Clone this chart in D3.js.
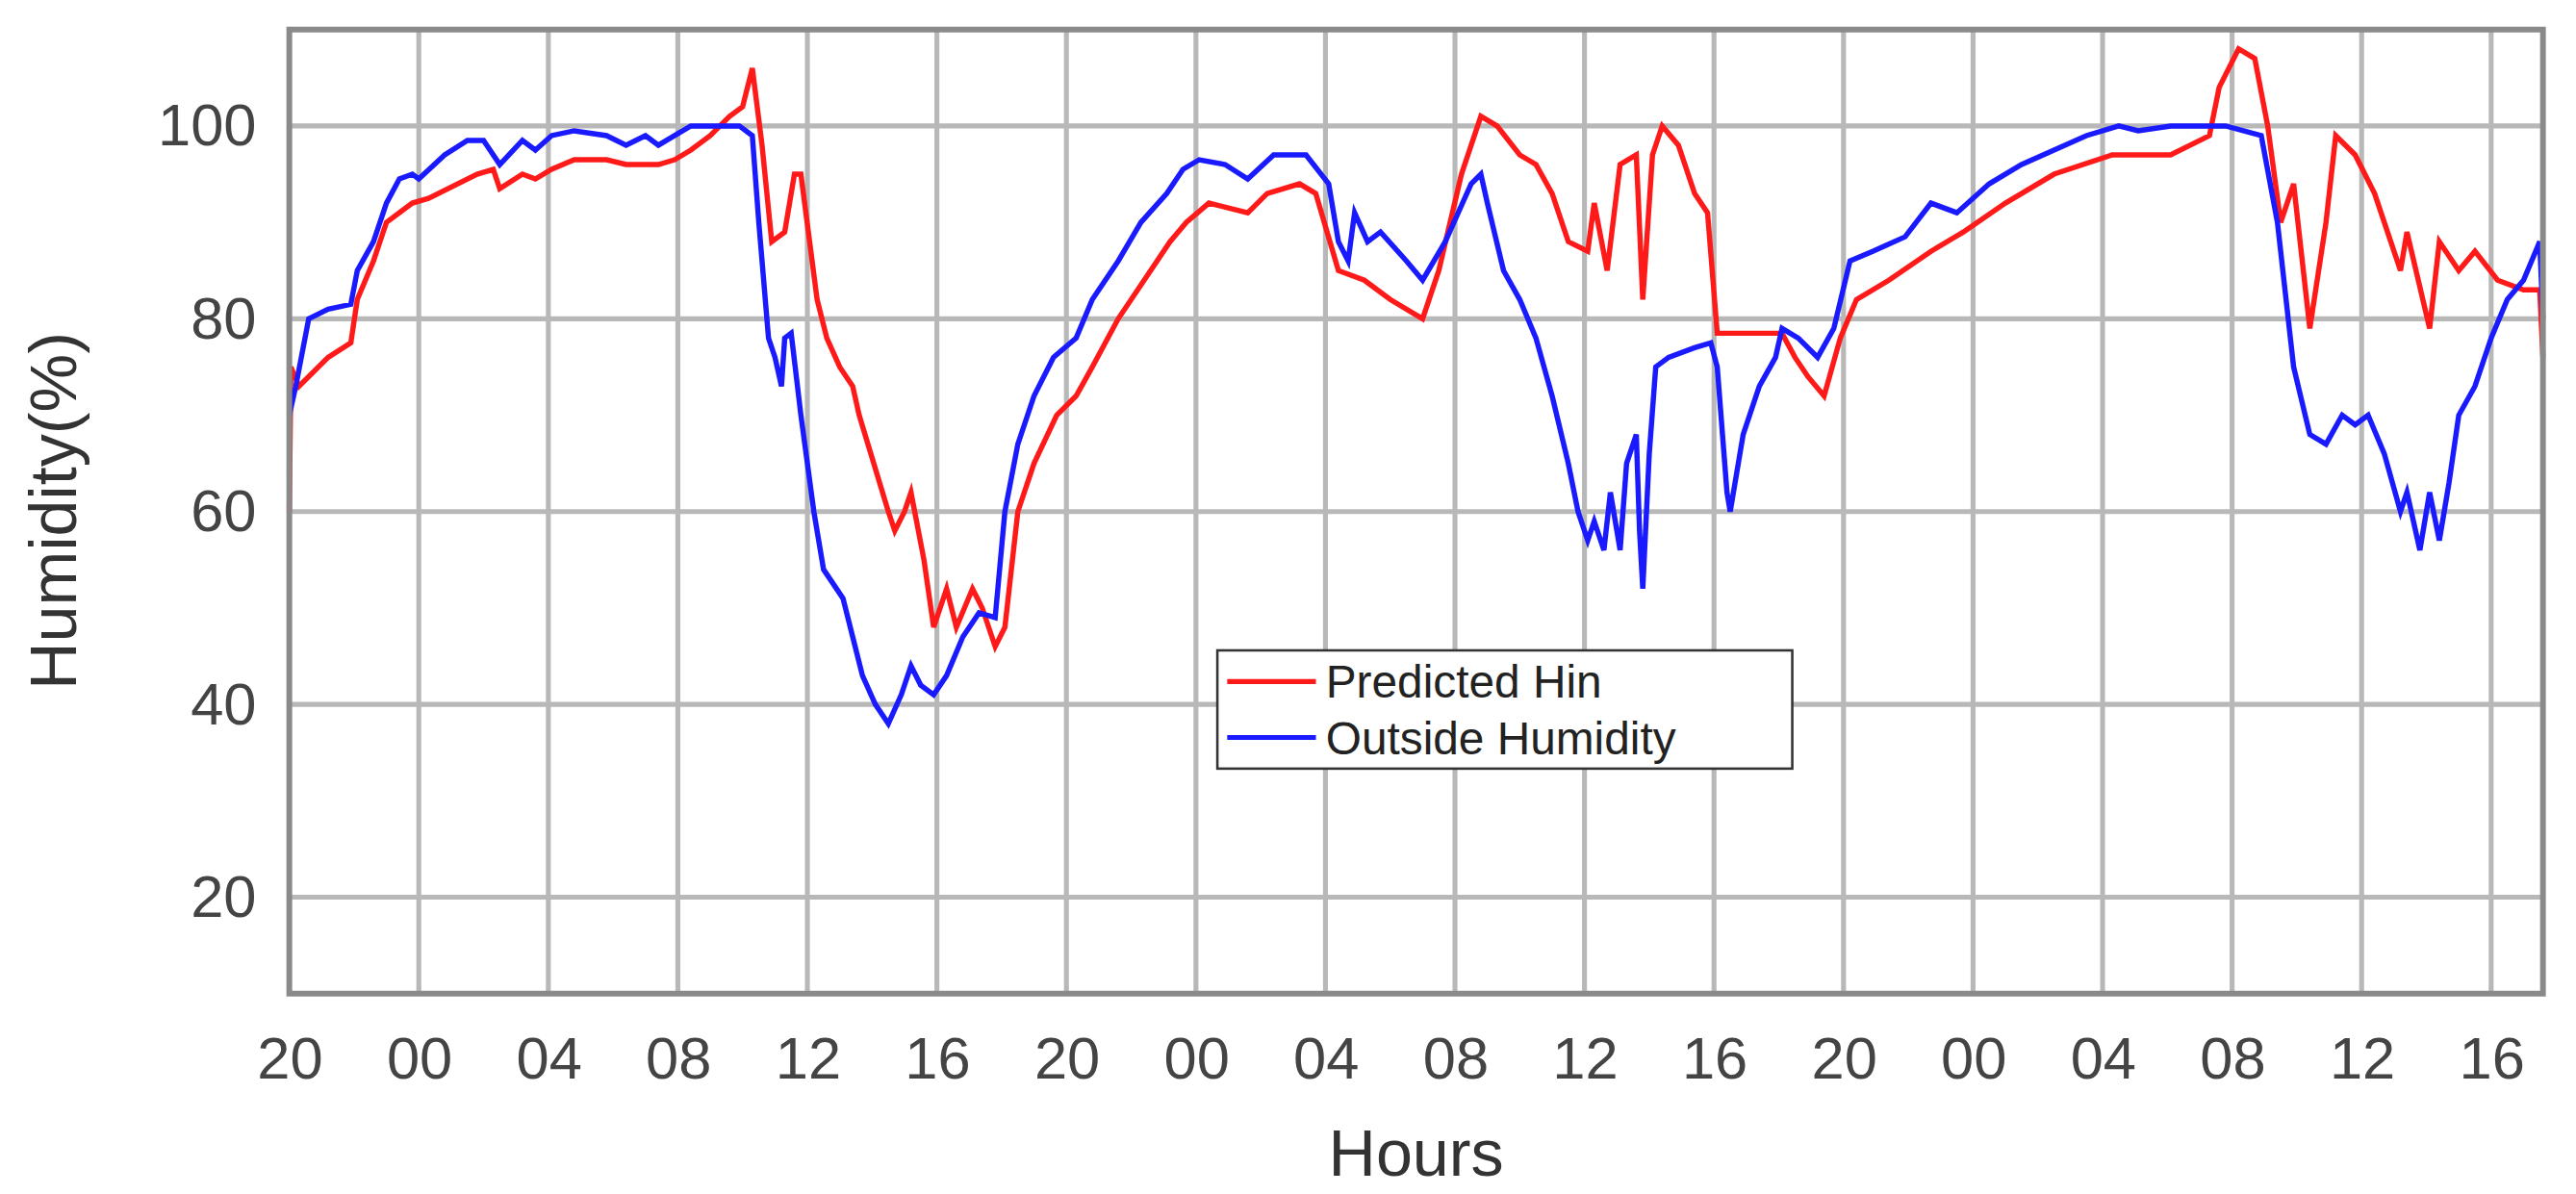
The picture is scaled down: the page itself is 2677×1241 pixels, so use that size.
<!DOCTYPE html>
<html><head><meta charset="utf-8">
<script src="https://cdn.jsdelivr.net/npm/d3@7"></script>
<style>body{margin:0;background:#fff}</style>
</head><body>
<svg id="chart" width="2677" height="1241" viewBox="0 0 1568 727"></svg>
<script>
// hours since 20:00 on day 1
const tickHours = d3.range(0, 69, 4);
const tickLabels = ["20","00","04","08","12","16","20","00","04","08","12","16","20","00","04","08","12","16"];
const yTicks = [20, 40, 60, 80, 100];

const predictedHours = [0,0.05,0.3,1.2,1.9,2.1,2.6,3.0,3.8,4.3,5.8,6.3,6.5,7.2,7.6,8.1,8.8,9.8,10.4,11.4,11.9,12.4,13.0,13.6,14.0,14.3,14.6,14.9,15.3,15.6,15.8,16.3,16.6,17.0,17.4,17.6,18.5,18.7,19.0,19.2,19.6,19.9,20.3,20.6,21.1,21.4,21.8,22.1,22.5,23.0,23.7,24.3,24.8,25.6,26.6,27.2,27.7,28.4,29.6,30.2,31.2,31.7,32.4,33.2,34.0,35.0,35.5,36.2,36.8,37.3,38.0,38.5,39.0,39.5,40.1,40.3,40.7,41.1,41.6,41.8,42.1,42.4,42.9,43.4,43.8,44.1,46.1,46.5,46.9,47.4,47.9,48.4,49.4,50.7,51.7,53.0,54.5,56.3,58.1,59.3,59.6,60.2,60.7,61.1,61.5,61.9,62.4,62.9,63.2,63.8,64.4,64.9,65.2,65.4,66.1,66.4,67.0,67.5,68.2,69.0,69.5,69.6];
const predictedHin = [60,75,73,76,77.5,82,86,90,92,92.5,95,95.5,93.5,95,94.5,95.5,96.5,96.5,96,96,96.5,97.5,99,101,102,106,98,88,89,95,95,82,78,75,73,70,60,58,60,62,55,48,52,48,52,50,46,48,60,65,70,72,75,80,85,88,90,92,91,93,94,93,85,84,82,80,85,95,101,100,97,96,93,88,87,92,85,96,97,82,97,100,98,93,91,78.5,78.5,76,74,72,78,82,84,87,89,92,95,97,97,99,104,108,107,100,90,94,79,90,99,97,93,88,85,89,79,88,85,87,84,83,83,76];

const outsideHours = [0,0.2,0.6,1.2,1.9,2.1,2.6,3.0,3.4,3.8,4.0,4.8,5.5,6.0,6.5,7.2,7.6,8.1,8.8,9.8,10.4,11.0,11.4,11.9,12.4,13.9,14.3,14.5,14.8,15.0,15.2,15.3,15.5,15.8,16.2,16.5,17.1,17.4,17.7,18.1,18.5,18.9,19.2,19.5,19.9,20.3,20.8,21.3,21.8,22.1,22.5,23.0,23.6,24.3,24.8,25.6,26.3,27.1,27.6,28.1,28.9,29.6,30.4,31.4,32.1,32.4,32.7,32.9,33.3,33.7,34.5,35.0,35.7,36.5,36.8,37.0,37.5,38.0,38.5,39.0,39.5,39.8,40.1,40.3,40.6,40.8,41.1,41.3,41.6,41.7,41.8,42.0,42.2,42.6,43.4,43.9,44.1,44.4,44.5,44.9,45.4,45.9,46.1,46.6,47.2,47.7,48.2,48.9,49.9,50.7,51.5,52.5,53.5,54.5,55.5,56.5,57.1,58.1,59.8,60.9,61.4,61.9,62.4,62.9,63.4,63.8,64.2,64.7,65.2,65.4,65.8,66.1,66.4,66.7,67.0,67.5,68.0,68.5,69.0,69.5,69.6];
const outsideHumidity = [70,73,80,81,81.5,85,88,92,94.5,95,94.5,97,98.5,98.5,96,98.5,97.5,99,99.5,99,98,99,98,99,100,100,99,90,78,76,73,78,78.5,70,60,54,51,47,43,40,38,41,44,42,41,43,47,49.5,49,60,67,72,76,78,82,86,90,93,95.5,96.5,96,94.5,97,97,94,88,86,91,88,89,86,84,88,94,95,92,85,82,78,72,65,60,57,59,56,62,56,65,68,58,52,66,75,76,77,77.5,75,62,60,68,73,76,79,78,76,79,86,87,88.5,92,91,94,96,97.5,99,100,99.5,100,100,99,90,75,68,67,70,69,70,66,60,62,56,62,57,63,70,73,78,82,84,88,80];

const svg = d3.select("#chart");
const m = {left: 176, right: 1548, top: 18, bottom: 605};
const x = d3.scaleLinear().domain([0, 69.6]).range([m.left, m.right]);
const y = d3.scaleLinear().domain([10, 110]).range([m.bottom, m.top]);
const font = "Liberation Sans, Arial, sans-serif";

// grid
svg.append("g").selectAll("line").data(tickHours).join("line")
  .attr("x1", d => x(d)).attr("x2", d => x(d)).attr("y1", m.top).attr("y2", m.bottom)
  .attr("stroke", "#b8b8b8").attr("stroke-width", 3);
svg.append("g").selectAll("line").data(yTicks).join("line")
  .attr("x1", m.left).attr("x2", m.right).attr("y1", d => y(d)).attr("y2", d => y(d))
  .attr("stroke", "#b8b8b8").attr("stroke-width", 3);

const line = d3.line().x(d => x(d[0])).y(d => y(d[1]));
svg.append("path").datum(predictedHours.map((h, i) => [h, predictedHin[i]]))
  .attr("d", line).attr("fill", "none").attr("stroke", "#ff1a1a").attr("stroke-width", 3.2);
svg.append("path").datum(outsideHours.map((h, i) => [h, outsideHumidity[i]]))
  .attr("d", line).attr("fill", "none").attr("stroke", "#1a1aff").attr("stroke-width", 3.2);

// frame
svg.append("rect").attr("x", m.left).attr("y", m.top)
  .attr("width", m.right - m.left).attr("height", m.bottom - m.top)
  .attr("fill", "none").attr("stroke", "#8a8a8a").attr("stroke-width", 3.5);

// axes
const xAxis = svg.append("g").attr("transform", `translate(0,${m.bottom})`)
  .call(d3.axisBottom(x).tickValues(tickHours).tickFormat((d, i) => tickLabels[i]).tickSize(0).tickPadding(26));
const yAxis = svg.append("g").attr("transform", `translate(${m.left},0)`)
  .call(d3.axisLeft(y).tickValues(yTicks).tickSize(0).tickPadding(20));
[xAxis, yAxis].forEach(a => {
  a.select(".domain").remove();
  a.selectAll("text").attr("font-family", font).attr("font-size", 36).attr("fill", "#444");
});

svg.append("text").attr("x", 862).attr("y", 716)
  .attr("text-anchor", "middle").attr("font-family", font)
  .attr("font-size", 40).attr("fill", "#333").text("Hours");
svg.append("text").attr("transform", "translate(46,311) rotate(-90)")
  .attr("text-anchor", "middle").attr("font-family", font)
  .attr("font-size", 40).attr("fill", "#333").text("Humidity(%)");

// legend
const lg = svg.append("g").attr("transform", "translate(741,396)");
lg.append("rect").attr("width", 350).attr("height", 72).attr("fill", "#fff")
  .attr("stroke", "#333").attr("stroke-width", 1.5);
const items = [["Predicted Hin", "#ff1a1a"], ["Outside Humidity", "#1a1aff"]];
items.forEach(([label, c], i) => {
  const yy = 19 + i * 34;
  lg.append("line").attr("x1", 6).attr("x2", 60).attr("y1", yy).attr("y2", yy)
    .attr("stroke", c).attr("stroke-width", 3);
  lg.append("text").attr("x", 66).attr("y", yy + 10)
    .attr("font-family", font).attr("font-size", 28)
    .attr("fill", "#222").text(label);
});
</script>
</body></html>
